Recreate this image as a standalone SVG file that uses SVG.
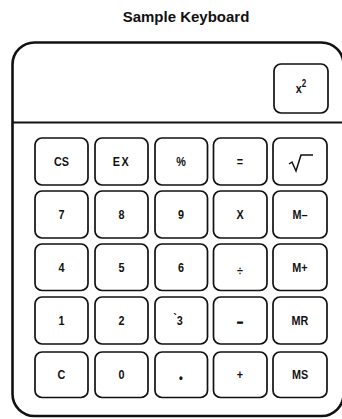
<svg xmlns="http://www.w3.org/2000/svg" width="342" height="419" viewBox="0 0 342 419">
<style>
.frame{fill:none;stroke:#111;stroke-width:2.6}
.div{stroke:#111;stroke-width:2}
.key rect{fill:#fff;stroke:#111;stroke-width:1.7}
.lbl{font-family:"Liberation Sans",Arial,sans-serif;font-weight:bold;font-size:13.5px;fill:#111;text-anchor:middle;transform-box:fill-box;transform-origin:center;transform:scaleX(0.8)}
.title{font-family:"Liberation Sans",Arial,sans-serif;font-weight:bold;font-size:15px;fill:#111;text-anchor:middle}
.sym{fill:none;stroke:#111;stroke-width:1.5;stroke-linejoin:miter}
</style>
<rect width="342" height="419" fill="#fff"/>
<text class="title" x="186" y="21.5">Sample Keyboard</text>
<g id="body">
<rect class="frame" x="12.5" y="42.5" width="331" height="373.5" rx="22"/>
<line class="div" x1="12" y1="122.5" x2="342" y2="122.5"/>
</g>
<g id="key-x2" class="key"><rect x="274" y="64" width="54" height="49" rx="7"/><text class="lbl" x="301" y="93">x<tspan font-size="10" dy="-6">2</tspan></text></g>
<g id="key-cs" class="key"><rect x="35" y="138" width="53" height="47" rx="7"/><text class="lbl" x="61.5" y="166">CS</text></g>
<g id="key-ex" class="key"><rect x="95" y="138" width="53" height="47" rx="7"/><text class="lbl" x="121.5" y="166" letter-spacing="2">EX</text></g>
<g id="key-pct" class="key"><rect x="155" y="138" width="52.5" height="47" rx="7"/><text class="lbl" x="181" y="166">%</text></g>
<g id="key-eq" class="key"><rect x="213.5" y="138" width="53.5" height="47" rx="7"/><text class="lbl" x="240" y="166">=</text></g>
<g id="key-sqrt" class="key"><rect x="273" y="138" width="54" height="47" rx="7"/><polyline class="sym" points="289,164 292,162 296,171 301,155 313,155"/></g>
<g id="key-7" class="key"><rect x="35" y="191" width="53" height="47" rx="7"/><text class="lbl" x="61.5" y="219">7</text></g>
<g id="key-8" class="key"><rect x="95" y="191" width="53" height="47" rx="7"/><text class="lbl" x="121.5" y="219">8</text></g>
<g id="key-9" class="key"><rect x="155" y="191" width="52.5" height="47" rx="7"/><text class="lbl" x="181" y="219">9</text></g>
<g id="key-mul" class="key"><rect x="213.5" y="191" width="53.5" height="47" rx="7"/><text class="lbl" x="240" y="219">X</text></g>
<g id="key-mminus" class="key"><rect x="273" y="191" width="54" height="47" rx="7"/><text class="lbl" x="300" y="219">M–</text></g>
<g id="key-4" class="key"><rect x="35" y="244" width="53" height="46.5" rx="7"/><text class="lbl" x="61.5" y="272">4</text></g>
<g id="key-5" class="key"><rect x="95" y="244" width="53" height="46.5" rx="7"/><text class="lbl" x="121.5" y="272">5</text></g>
<g id="key-6" class="key"><rect x="155" y="244" width="52.5" height="46.5" rx="7"/><text class="lbl" x="181" y="272">6</text></g>
<g id="key-div" class="key"><rect x="213.5" y="244" width="53.5" height="46.5" rx="7"/><text class="lbl" x="240" y="275.5" font-size="19">÷</text></g>
<g id="key-mplus" class="key"><rect x="273" y="244" width="54" height="46.5" rx="7"/><text class="lbl" x="300" y="272">M+</text></g>
<g id="key-1" class="key"><rect x="35" y="297" width="53" height="47" rx="7"/><text class="lbl" x="61.5" y="325">1</text></g>
<g id="key-2" class="key"><rect x="95" y="297" width="53" height="47" rx="7"/><text class="lbl" x="121.5" y="325">2</text></g>
<g id="key-3" class="key"><rect x="155" y="297" width="52.5" height="47" rx="7"/><text class="lbl" x="178" y="325"><tspan dy="-2">`</tspan><tspan dy="2">3</tspan></text></g>
<g id="key-sub" class="key"><rect x="213.5" y="297" width="53.5" height="47" rx="7"/><text class="lbl" x="240" y="326" font-size="17" stroke="#111" stroke-width="0.8">–</text></g>
<g id="key-mr" class="key"><rect x="273" y="297" width="54" height="47" rx="7"/><text class="lbl" x="300" y="325">MR</text></g>
<g id="key-c" class="key"><rect x="35" y="352" width="53" height="45.5" rx="7"/><text class="lbl" x="61.5" y="379">C</text></g>
<g id="key-0" class="key"><rect x="95" y="352" width="53" height="45.5" rx="7"/><text class="lbl" x="121.5" y="379">0</text></g>
<g id="key-dot" class="key"><rect x="155" y="352" width="52.5" height="45.5" rx="7"/><text class="lbl" x="181" y="382" font-size="20">•</text></g>
<g id="key-add" class="key"><rect x="213.5" y="352" width="53.5" height="45.5" rx="7"/><text class="lbl" x="240" y="379">+</text></g>
<g id="key-ms" class="key"><rect x="273" y="352" width="54" height="45.5" rx="7"/><text class="lbl" x="300" y="379">MS</text></g>
<g id="connectors"></g>
</svg>
